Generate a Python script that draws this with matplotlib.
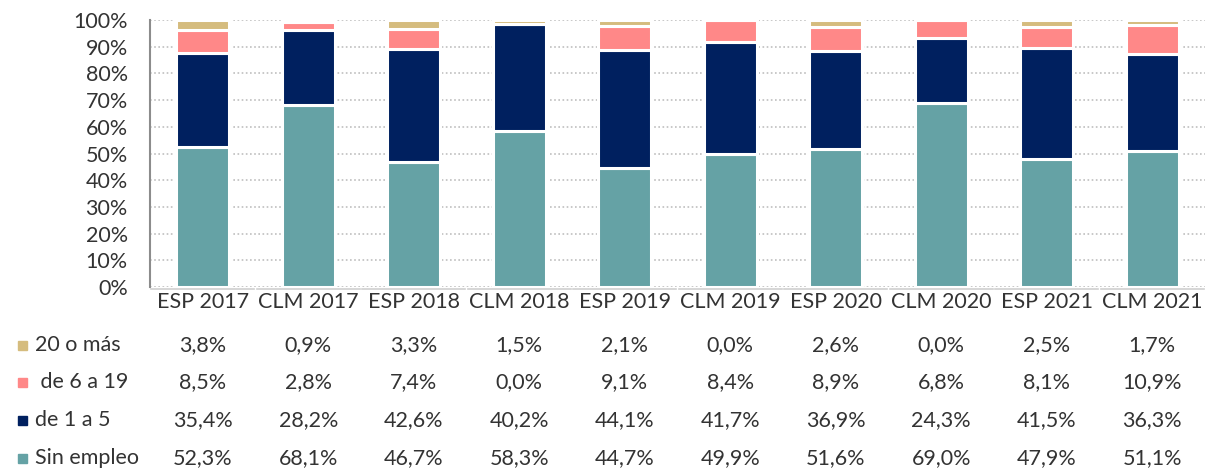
import matplotlib.pyplot as plt
from matplotlib.transforms import blended_transform_factory

# Data
categories = ['ESP 2017', 'CLM 2017', 'ESP 2018', 'CLM 2018', 'ESP 2019',
              'CLM 2019', 'ESP 2020', 'CLM 2020', 'ESP 2021', 'CLM 2021']
sin_empleo = [52.3, 68.1, 46.7, 58.3, 44.7, 49.9, 51.6, 69.0, 47.9, 51.1]
de_1_a_5 = [35.4, 28.2, 42.6, 40.2, 44.1, 41.7, 36.9, 24.3, 41.5, 36.3]
de_6_a_19 = [8.5, 2.8, 7.4, 0.0, 9.1, 8.4, 8.9, 6.8, 8.1, 10.9]
veinte_o_mas = [3.8, 0.9, 3.3, 1.5, 2.1, 0.0, 2.6, 0.0, 2.5, 1.7]

series = [('Sin empleo', sin_empleo, '#65A2A5'),
          ('de 1 a 5', de_1_a_5, '#00205F'),
          (' de 6 a 19', de_6_a_19, '#FF8888'),
          ('20 o más', veinte_o_mas, '#D5BC7E')]

plt.rcParams['font.family'] = ['Lato', 'DejaVu Sans']
txt = '#333333'
fs = 15.5

fig = plt.figure(figsize=(12.08, 4.72), dpi=100)
ax = fig.add_axes([150 / 1208, 1 - 287 / 472, 1055 / 1208, 267 / 472])

x = list(range(len(categories)))
bottom = [0.0] * len(categories)
for name, vals, color in series:
    ax.bar(x, vals, bottom=bottom, width=0.5, color=color,
           edgecolor='white', linewidth=2.2, zorder=3)
    bottom = [b + v for b, v in zip(bottom, vals)]

ax.set_xlim(-0.5, len(categories) - 0.5)
ax.set_ylim(0, 100)
ax.set_yticks(range(0, 101, 10))
ax.set_yticklabels([f'{t}%' for t in range(0, 101, 10)])
ax.tick_params(axis='y', length=0, labelsize=fs, labelcolor=txt, pad=16)
ax.set_xticks([])
ax.grid(axis='y', color='#BFBFBF', linestyle=(0, (1, 1.5)), linewidth=1.2, zorder=0)
for s in ['top', 'right', 'bottom']:
    ax.spines[s].set_visible(False)
ax.spines['left'].set_color('#8C8C8C')
ax.spines['left'].set_linewidth(1.5)

# Data table below the chart
tr = blended_transform_factory(ax.transData, fig.transFigure)
for i in x:
    ax.plot([i - 0.49, i + 0.49], [1 - 289 / 472] * 2, color='#D0D0D0',
            linewidth=1.2, transform=tr, clip_on=False)
    ax.text(i, 1 - 302 / 472, categories[i], transform=tr, ha='center',
            va='center', fontsize=fs, color=txt)

row_y = {'20 o más': 345, ' de 6 a 19': 382, 'de 1 a 5': 420, 'Sin empleo': 458}
for name, vals, color in series:
    yf = 1 - row_y[name] / 472
    fig.patches.append(plt.Rectangle((18 / 1208, yf - 4.5 / 472), 9 / 1208, 9 / 472,
                                     color=color, transform=fig.transFigure))
    fig.text(35 / 1208, yf, name, ha='left', va='center', fontsize=fs, color=txt)
    for i, v in enumerate(vals):
        ax.text(i, yf, f'{v:.1f}%'.replace('.', ','), transform=tr, ha='center',
                va='center', fontsize=fs, color=txt)

fig.savefig('out.png', dpi=100)
